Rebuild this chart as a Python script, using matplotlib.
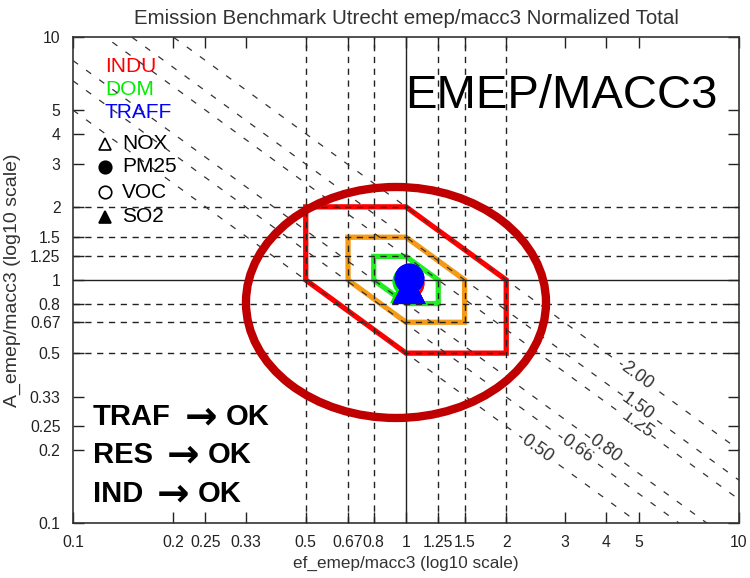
import numpy as np
import matplotlib
matplotlib.use('Agg')
import matplotlib.pyplot as plt
from matplotlib.patches import Polygon, Ellipse

thin = 'Liberation Sans'

# ticks used on both axes
ticks = [0.1, 0.2, 0.25, 0.33, 0.5, 0.67, 0.8, 1, 1.25, 1.5, 2, 3, 4, 5, 10]
tick_labels = ['0.1', '0.2', '0.25', '0.33', '0.5', '0.67', '0.8', '1',
               '1.25', '1.5', '2', '3', '4', '5', '10']
grid_vals = [0.5, 0.67, 0.8, 1.25, 1.5, 2]

# lines of constant ef*A
iso_vals = [0.50, 0.66, 0.80, 1.25, 1.50, 2.00]
iso_label_x = [2.47, 3.26, 3.96, 4.94, 4.97, 4.94]

# acceptance hexagons
red_x = [0.5, 1, 2, 2, 1, 0.5]
red_y = [2, 2, 1, 0.5, 0.5, 1]
orange_x = [0.67, 1, 1.5, 1.5, 1, 0.67]
orange_y = [1.5, 1.5, 1, 0.67, 0.67, 1]
green_x = [0.8, 1, 1.25, 1.25, 1, 0.8]
green_y = [1.25, 1.25, 1, 0.8, 0.8, 1]

# sectors / species (NOX, PM25, VOC, SO2)
sectors = ['INDU', 'DOM', 'TRAFF']
sector_colors = ['#ff0000', '#00ee00', '#0000ff']
species = ['NOX', 'PM25', 'VOC', 'SO2']
indu_ef = [1.02, 1.02, 1.02, 1.02]
indu_a = [0.93, 0.97, 0.97, 0.93]
dom_ef = [1.01, 1.01, 1.01, 1.01]
dom_a = [0.94, 0.99, 0.99, 0.94]
traff_ef = [1.02, 1.02, 1.02, 1.02]
traff_a = [0.93, 1.02, 1.02, 0.93]

verdicts = [('TRAF', 'OK'), ('RES', 'OK'), ('IND', 'OK')]

fig = plt.figure(figsize=(7.5, 5.78), dpi=100)
ax = fig.add_axes([0.0973, 0.0952, 0.888, 0.8408])
ax.set_xscale('log')
ax.set_yscale('log')
ax.set_xlim(0.1, 10)
ax.set_ylim(0.1, 10)

# grid lines
for v in grid_vals:
    ax.axvline(v, color='#222222', lw=1, dashes=(4.5, 4), zorder=3)
    ax.axhline(v, color='#222222', lw=1, dashes=(4.5, 4), zorder=3)
ax.axvline(1, color='#222222', lw=1, zorder=3)
ax.axhline(1, color='#222222', lw=1, zorder=3)

# hexagons
for px, py, col in [(red_x, red_y, '#ff0000'), (orange_x, orange_y, '#f59a16'),
                    (green_x, green_y, '#22ee22')]:
    poly = Polygon(np.column_stack([px, py]), closed=True, fill=False,
                   edgecolor=col, lw=3.8, joinstyle='miter', zorder=2)
    ax.add_patch(poly)

# iso lines
xx = np.array([0.1, 10])
p1 = ax.transData.transform((1, 1))
p2 = ax.transData.transform((10, 0.1))
ang = np.degrees(np.arctan2(p2[1] - p1[1], p2[0] - p1[0]))
for c, lx in zip(iso_vals, iso_label_x):
    ax.plot(xx, c / xx, color='#333333', lw=0.9, dashes=(5, 8), zorder=4)
    ax.text(lx, c / lx, '%.2f' % c, rotation=ang, rotation_mode='anchor',
            ha='center', va='center', fontsize=13, family=thin,
            color='#333333', zorder=5,
            bbox=dict(facecolor='white', edgecolor='none', pad=0.3))

# data markers
styles = [('^', 'none'), ('o', 'full'), ('o', 'none'), ('^', 'full')]
sizes = [22, 20, 20, 22]
for ef, a, col in [(indu_ef, indu_a, sector_colors[0]),
                   (dom_ef, dom_a, sector_colors[1]),
                   (traff_ef, traff_a, sector_colors[2])]:
    for i in range(len(species)):
        m, fs = styles[i]
        ax.plot(ef[i], a[i], marker=m, ms=sizes[i], color=col,
                fillstyle=fs, mew=1.5, zorder=7)

# big ellipse annotation
ell = Ellipse((0.485, 0.4537), 0.4505, 0.4753, transform=ax.transAxes,
              fill=False, edgecolor='#c00000', lw=6, zorder=8)
ax.add_patch(ell)

# legend texts
for i, (s, col) in enumerate(zip(sectors, sector_colors)):
    ax.text(0.048, 0.940 - i * 0.048, s, color=col, family=thin,
            fontsize=15, va='center', ha='left', transform=ax.transAxes)
sym_y = [0.780, 0.733, 0.681, 0.630]
for i in range(len(species)):
    m, fs = styles[i]
    ax.plot(0.048, sym_y[i], marker=m, ms=9, color='black', fillstyle=fs,
            mew=1.2, transform=ax.transAxes, clip_on=False)
    ax.text(0.0736, sym_y[i], species[i], color='black', family=thin,
            fontsize=15, va='center', ha='left', transform=ax.transAxes)

ax.text(0.4985, 0.854, 'EMEP/MACC3', family='Liberation Sans', fontsize=34,
        va='baseline', ha='left', transform=ax.transAxes, zorder=9)
for i, (name, res) in enumerate(verdicts):
    t1 = ax.text(0.030, 0.2016 - i * 0.0792, name, family='Liberation Sans',
                 fontsize=21, fontweight='bold', va='baseline', ha='left',
                 transform=ax.transAxes, zorder=9)
    t2 = ax.annotate('\u2192', xy=(1, 0.5), xycoords=t1, xytext=(10, 0),
                     textcoords='offset points', family='DejaVu Sans',
                     fontsize=28, fontweight='bold', va='center', ha='left',
                     zorder=9)
    ax.annotate(res, xy=(1, 0), xycoords=(t2, t1), xytext=(6, 0),
                textcoords='offset points', family='Liberation Sans',
                fontsize=21, fontweight='bold', va='bottom', ha='left',
                zorder=9)

# axes cosmetics
ax.minorticks_off()
ax.set_xticks(ticks)
ax.set_xticklabels(tick_labels)
ax.set_yticks(ticks)
ax.set_yticklabels(tick_labels)
ax.tick_params(which='both', direction='in', length=8, width=1,
               top=True, right=True, labelsize=11.3, colors='#222222',
               pad=9)
for lab in ax.get_xticklabels() + ax.get_yticklabels():
    lab.set_family(thin)
for sp in ax.spines.values():
    sp.set_linewidth(1.2)
    sp.set_color('#333333')

ax.set_title('Emission Benchmark Utrecht emep/macc3 Normalized Total',
             family=thin, fontsize=14.8, color='#333333', pad=9)
ax.set_xlabel('ef_emep/macc3 (log10 scale)', family=thin, fontsize=12.3,
              color='#333333', labelpad=4)
ax.set_ylabel('A_emep/macc3 (log10 scale)', family=thin, fontsize=14,
              color='#333333', labelpad=6)

fig.savefig('out.png', dpi=100)
